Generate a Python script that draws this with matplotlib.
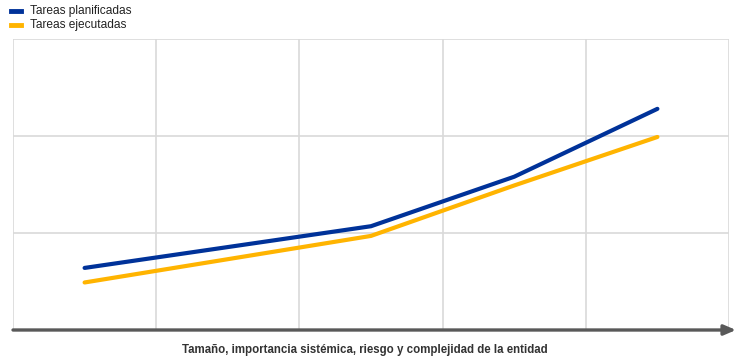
import numpy as np
import matplotlib
matplotlib.use("Agg")
import matplotlib.pyplot as plt
from matplotlib.lines import Line2D

# valeurs (unités arbitraires)
x_pos = [0.5, 2.5, 3.5, 4.5]
planificadas = [0.64, 1.07, 1.58, 2.28]
ejecutadas = [0.49, 0.97, 1.49, 1.99]
series_labels = ["Tareas planificadas", "Tareas ejecutadas"]
series_colors = ["#003299", "#FFB400"]
xlabel = "Tamaño, importancia sistémica, riesgo y complejidad de la entidad"

plt.rcParams['font.family'] = ['Liberation Sans', 'DejaVu Sans']

W, H = 741, 360
fig = plt.figure(figsize=(W / 100, H / 100), dpi=100)
ax = fig.add_axes([13 / W, 1 - 330 / H, (729 - 13) / W, (330 - 39) / H])

for vals, col, lab in zip([planificadas, ejecutadas], series_colors, series_labels):
    ax.plot(x_pos, vals, color=col, lw=3, solid_capstyle="round", label=lab, zorder=3)

ax.set_xlim(0, 5)
ax.set_ylim(0, 3)
ax.set_xticks([0, 1, 2, 3, 4, 5])
ax.set_yticks([0, 1, 2, 3])
ax.grid(True, color="#d9d9d9", lw=1.2)
ax.tick_params(length=0, labelleft=False, labelbottom=False)
for s in ax.spines.values():
    s.set_visible(False)

# axe x avec flèche
ax.annotate("", xy=(736 - 13, 0), xytext=(0, 0),
            xycoords=("axes pixels", "axes fraction"), textcoords="axes fraction",
            arrowprops=dict(arrowstyle="-|>,head_length=0.7,head_width=0.3",
                            color="#595959", lw=2.4, shrinkA=0, shrinkB=0),
            annotation_clip=False)

fig.text(365 / W, 1 - 350 / H, xlabel, ha="center", va="center",
         fontsize=8.3, fontweight="bold", color="#333333")

# légende manuelle
for i, (col, lab) in enumerate(zip(series_colors, series_labels)):
    y = 1 - (11 + 14 * i) / H
    fig.add_artist(Line2D([11 / W, 21 / W], [y, y], color=col, lw=3.5,
                          transform=fig.transFigure))
    fig.text(30 / W, y, lab, ha="left", va="center", fontsize=8.6, color="#222222")

plt.savefig("out.png", dpi=100)
